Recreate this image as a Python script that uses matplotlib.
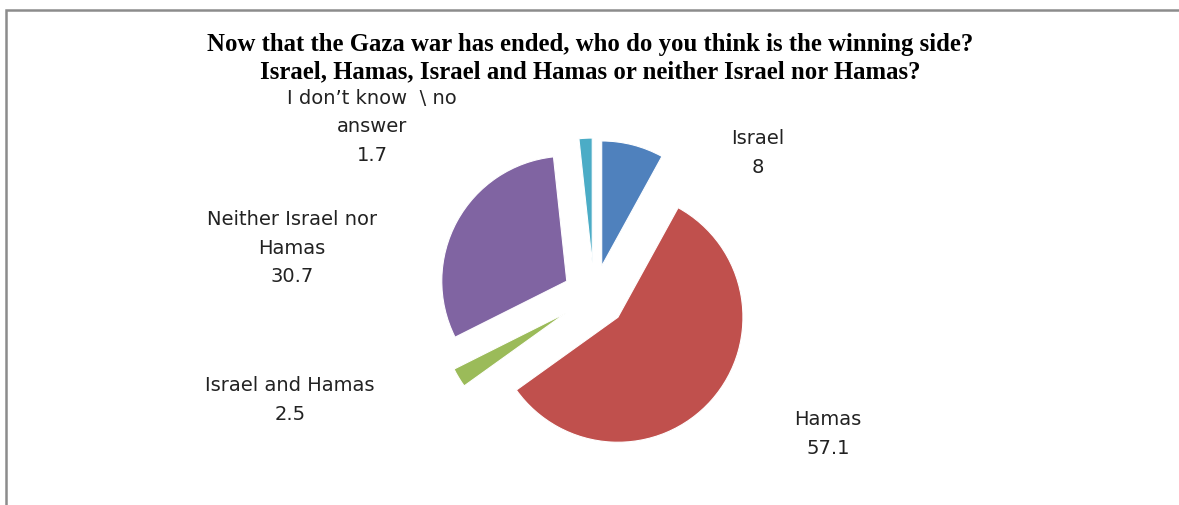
import matplotlib.pyplot as plt
from matplotlib.patches import Rectangle

labels = ["Israel", "Hamas", "Israel and Hamas", "Neither Israel nor\nHamas", "I don\u2019t know  \\ no\nanswer"]
values = [8, 57.1, 2.5, 30.7, 1.7]
colors = ["#4F81BD", "#C0504D", "#9BBB59", "#8064A2", "#4BACC6"]

W, H = 1179, 506
fig = plt.figure(figsize=(W / 100, H / 100), dpi=100)
ax = fig.add_axes([0, 0, 1, 1])

# chart frame (cut off at right and bottom)
ax.add_patch(Rectangle((6, -20), W + 20, H - 11 + 20, fill=False, ec="#8c8c8c", lw=1.8))

r = 125
cx, cy = 594, H - 297
explode = [31, 32, 33, 31, 33]
ax.pie(values, colors=colors, startangle=90, counterclock=False, radius=r,
       center=(cx, cy), explode=explode, frame=True,
       wedgeprops=dict(edgecolor="white", linewidth=0.8))
ax.set_xlim(0, W)
ax.set_ylim(0, H)
ax.axis("off")

# label placement (pixel coords of each label block centre)
label_pos = [(758, 153), (828, 434), (290, 400), (292, 248), (372, 127)]
for lab, v, (x, y) in zip(labels, values, label_pos):
    ax.text(x, H - y, f"{lab}\n{v:g}", ha="center", va="center",
            fontsize=14, family="DejaVu Sans", color="#222222",
            linespacing=1.65)

fig.text(590 / W, 1 - 58 / H,
         "Now that the Gaza war has ended, who do you think is the winning side?\n"
         "Israel, Hamas, Israel and Hamas or neither Israel nor Hamas?",
         ha="center", va="center", fontsize=17.8, fontweight="bold",
         family="Liberation Serif", linespacing=1.22)

fig.savefig("out.png", dpi=100)
